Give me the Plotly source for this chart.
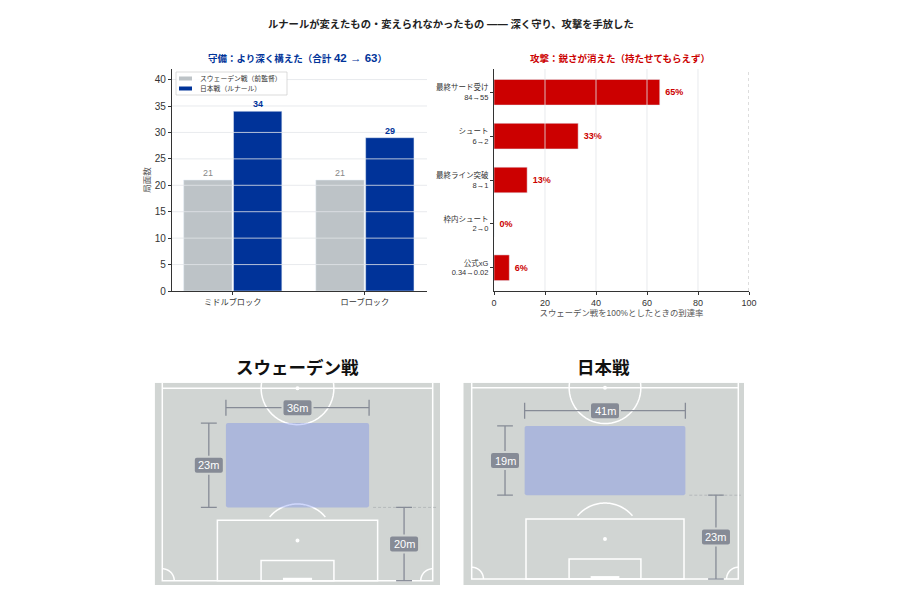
#!/usr/bin/env python3
"""Renard's Saudi Arabia: block depth, attack drop-off and defensive block on the pitch."""

import numpy as np
import plotly.graph_objects as go
from plotly.subplots import make_subplots

FONT = "Liberation Sans, Noto Sans CJK JP, sans-serif"
GREY = "#bdc3c7"
BLUE = "#003399"
RED = "#cc0000"
GRID = "rgba(226,229,233,0.8)"
PITCH_BG = "#d1d5d3"
DIM = "#868b96"

# Defence: block phases
block_cats = ["ミドルブロック", "ローブロック"]
sweden_phases = [21, 21]
japan_phases = [34, 29]
defence_ticks = [0, 5, 10, 15, 20, 25, 30, 35, 40]
series_names = ["スウェーデン戦（前監督）", "日本戦（ルナール）"]

# Attack: share reached against the Sweden match
attack_cats = ["最終サード受け<br>84→55", "シュート<br>6→2", "最終ライン突破<br>8→1",
               "枠内シュート<br>2→0", "公式xG<br>0.34→0.02"]
attack_pct = [65, 33, 13, 0, 6]
attack_ticks = [0, 20, 40, 60, 80, 100]

# Defensive block on the pitch (metres)
pitch_titles = ["スウェーデン戦", "日本戦"]
block_width = [36, 41]
block_depth = [23, 19]
line_height = [20, 23]


def dom_x(left, right):
    return [left / 900, right / 900]


def dom_y(top, bottom):
    return [1 - bottom / 600, 1 - top / 600]


def arc_path(cx, cy, r, start, end, aspect):
    """SVG path of a circular arc, stretched so it stays round on the unequal axes."""
    angles = np.radians(np.linspace(start, end, 60))
    xs = cx + r * np.cos(angles)
    ys = cy + r * aspect * np.sin(angles)
    return "M" + " L".join(f"{x:.3f},{y:.3f}" for x, y in zip(xs, ys))


def round_rect(x0, y0, x1, y1, rx, ry):
    return (f"M{x0 + rx},{y0} L{x1 - rx},{y0} Q{x1},{y0} {x1},{y0 + ry} "
            f"L{x1},{y1 - ry} Q{x1},{y1} {x1 - rx},{y1} L{x0 + rx},{y1} "
            f"Q{x0},{y1} {x0},{y1 - ry} L{x0},{y0 + ry} Q{x0},{y0} {x0 + rx},{y0} Z")


fig = make_subplots(rows=2, cols=2)

# ─── Defence bars ─────────────────────────────────────
fig.add_trace(
    go.Bar(x=block_cats, y=sweden_phases, name=series_names[0], marker_color=GREY, showlegend=False),
    row=1, col=1,
)
fig.add_trace(
    go.Bar(x=block_cats, y=japan_phases, name=series_names[1], marker_color=BLUE, showlegend=False),
    row=1, col=1,
)
# Value labels as annotations: bar text "outside" sits a few px too high
for cat, sw, jp in zip(block_cats, sweden_phases, japan_phases):
    fig.add_annotation(x=cat, y=sw, xref="x", yref="y", xshift=-25, yanchor="bottom", text=str(sw),
                       showarrow=False, font=dict(size=9, color="#888888", family=FONT))
    fig.add_annotation(x=cat, y=jp, xref="x", yref="y", xshift=25, yanchor="bottom", text=f"<b>{jp}</b>",
                       showarrow=False, font=dict(size=9, color=BLUE, family=FONT))

# ─── Attack bars ──────────────────────────────────────
fig.add_trace(
    go.Bar(x=attack_pct, y=attack_cats, orientation="h", width=0.585, marker_color=RED,
           text=[f"<b> {v}%</b>" for v in attack_pct], textposition="outside", cliponaxis=False,
           textfont=dict(size=9, color=RED), showlegend=False),
    row=1, col=2,
)

# Grid lines sit on top of the bars in the original
for v in defence_ticks[1:]:
    fig.add_shape(type="line", xref="x domain", yref="y", x0=0, x1=1, y0=v, y1=v,
                  line=dict(color=GRID, width=1), layer="above")
for v in attack_ticks[1:-1]:
    fig.add_shape(type="line", xref="x2", yref="y2 domain", x0=v, x1=v, y0=0, y1=1,
                  line=dict(color=GRID, width=1), layer="above")
fig.add_shape(type="line", xref="x2", yref="y2 domain", x0=100, x1=100, y0=0, y1=1,
              line=dict(color="#bbbbbb", width=1, dash="dot"), layer="above")

# Legend box, the built-in one cannot draw patches this small
fig.add_shape(type="rect", xref="paper", yref="paper", x0=176 / 900, x1=287 / 900,
              y0=1 - 95 / 600, y1=1 - 72 / 600, line=dict(color="#cccccc", width=0.7),
              fillcolor="rgba(255,255,255,0.9)", layer="above")
for name, color, y in zip(series_names, [GREY, BLUE], [78.5, 88.5]):
    fig.add_shape(type="rect", xref="paper", yref="paper", x0=179 / 900, x1=192 / 900,
                  y0=1 - (y + 2) / 600, y1=1 - (y - 2) / 600, line_width=0, fillcolor=color, layer="above")
    fig.add_annotation(xref="paper", yref="paper", x=198 / 900, y=1 - y / 600, xanchor="left", yanchor="middle",
                       text=name, showarrow=False, font=dict(size=6.8, color="#333333", family=FONT))

# ─── Pitches ──────────────────────────────────────────
PITCH_W, HALF = 68, 52.5
panels = [
    dict(xa="x3", ya="y3", px=(154.7, 440), py=(382.7, 585), ox=(162.3, 432.7), oy=(388.3, 580.7), col=1, title_x=297),
    dict(xa="x4", ya="y4", px=(463.3, 744), py=(382.7, 585), ox=(471.7, 738.3), oy=(387.7, 579), col=2, title_x=603),
]
# positions of the side dimension lines, metres from the left touchline
side_dim_x = [(11.7, 60.8), (8.5, 62.3)]

for i, p in enumerate(panels):
    xs = (p["ox"][1] - p["ox"][0]) / PITCH_W
    ys = (p["oy"][1] - p["oy"][0]) / HALF
    aspect = xs / ys
    x_range = [(p["px"][0] - p["ox"][0]) / xs, PITCH_W + (p["px"][1] - p["ox"][1]) / xs]
    y_range = [(p["oy"][1] - p["py"][1]) / ys, HALF + (p["oy"][0] - p["py"][0]) / ys]
    fig.update_xaxes(domain=dom_x(*p["px"]), range=x_range, visible=False, row=2, col=p["col"])
    fig.update_yaxes(domain=dom_y(*p["py"]), range=y_range, visible=False, row=2, col=p["col"])
    xa, ya = p["xa"], p["ya"]
    mid = PITCH_W / 2
    white = dict(color="white", width=1.5)

    def shape(**kw):
        fig.add_shape(xref=xa, yref=ya, layer="above", **kw)

    shape(type="rect", x0=x_range[0], x1=x_range[1], y0=y_range[0], y1=y_range[1],
          line_width=0, fillcolor=PITCH_BG)
    # touchlines, goal line, halfway line
    shape(type="path", path=f"M0,{y_range[1]} L0,0 L{PITCH_W},0 L{PITCH_W},{y_range[1]}", line=white)
    shape(type="line", x0=0, x1=PITCH_W, y0=HALF, y1=HALF, line=white)
    # centre circle and spots
    shape(type="path", path=arc_path(mid, HALF, 9.15, 0, 360, aspect), line=white)
    for spot in (HALF, 11):
        shape(type="circle", x0=mid - 0.5, x1=mid + 0.5, y0=spot - 0.5 * aspect, y1=spot + 0.5 * aspect,
              line_width=0, fillcolor="white")
    # penalty box, arc, goal area, goal
    shape(type="rect", x0=mid - 20.15, x1=mid + 20.15, y0=0, y1=16.5, line=white)
    shape(type="path", path=arc_path(mid, 11, 9.15, 40, 140, aspect), line=white)
    shape(type="rect", x0=mid - 9.16, x1=mid + 9.16, y0=0, y1=5.5, line=white)
    shape(type="rect", x0=mid - 3.66, x1=mid + 3.66, y0=0, y1=0.8, line_width=0, fillcolor="white")
    # corner arcs
    shape(type="path", path=arc_path(0, 0, 3, 0, 90, aspect), line=white)
    shape(type="path", path=arc_path(PITCH_W, 0, 3, 90, 180, aspect), line=white)

    # defensive block
    bw, bd, lh = block_width[i], block_depth[i], line_height[i]
    bx0, bx1 = mid - bw / 2, mid + bw / 2
    top = lh + bd
    shape(type="path", path=round_rect(bx0, lh, bx1, top, 0.5, 0.5), line_width=0,
          fillcolor="rgba(64,96,244,0.25)")

    # dashed marker for the line height
    shape(type="line", x0=bx1 + 1, x1=x_range[1] - 0.8, y0=lh, y1=lh,
          line=dict(color="#a9adb0", width=0.7, dash="3px,2px"))

    # dimension lines: (x0, y0, x1, y1, label)
    left_x, right_x = side_dim_x[i]
    dims = [
        (bx0, top + 4.2, bx1, top + 4.2, f"{bw}m"),
        (left_x, lh, left_x, top, f"{bd}m"),
        (right_x, 0, right_x, lh, f"{lh}m"),
    ]
    dim_line = dict(color=DIM, width=1.3)
    for x0, y0, x1, y1, label in dims:
        shape(type="line", x0=x0, x1=x1, y0=y0, y1=y1, line=dim_line)
        if y0 == y1:
            for x in (x0, x1):
                shape(type="line", x0=x, x1=x, y0=y0 - 2.2, y1=y0 + 2.2, line=dim_line)
        else:
            for y in (y0, y1):
                shape(type="line", x0=x0 - 2, x1=x0 + 2, y0=y, y1=y, line=dim_line)
        cx, cy = (x0 + x1) / 2, (y0 + y1) / 2
        shape(type="path", xsizemode="pixel", ysizemode="pixel", xanchor=cx, yanchor=cy,
              path=round_rect(-15, -8.5, 15, 8.5, 3, 3), fillcolor=DIM,
              line=dict(color=PITCH_BG, width=2))
        fig.add_annotation(x=cx, y=cy, xref=xa, yref=ya, text=label, showarrow=False,
                           font=dict(size=11, color="white", family=FONT))
    fig.add_annotation(xref="paper", yref="paper", x=p["title_x"] / 900, y=1 - 367.5 / 600,
                       xanchor="center", yanchor="middle",
                       text=f"<b>{pitch_titles[i]}</b>", showarrow=False,
                       font=dict(size=17.5, color="#111111", family=FONT))

# ─── Titles ───────────────────────────────────────────
titles = [
    (451, 24, "<b>ルナールが変えたもの・変えられなかったもの —— 深く守り、攻撃を手放した</b>", 10.3, "#222222"),
    (297, 58, '<b>守備：より深く構えた（合計 <span style="font-size:11.5px">42 → 63</span>）</b>', 9.5, BLUE),
    (620, 58, "<b>攻撃：鋭さが消えた（持たせてもらえず）</b>", 9.5, RED),
]
for x, y, text, size, color in titles:
    fig.add_annotation(xref="paper", yref="paper", x=x / 900, y=1 - y / 600, xanchor="center", yanchor="middle",
                       text=text, showarrow=False, font=dict(size=size, color=color, family=FONT))

# ─── Axes ─────────────────────────────────────────────
axis_style = dict(showgrid=False, zeroline=False, showline=True, linecolor="#333333", linewidth=1.2,
                  ticks="outside", ticklen=3, tickcolor="#333333")
fig.update_xaxes(domain=dom_x(172, 427), type="category", range=[-0.46, 1.47],
                 tickfont=dict(size=8.2, color="#333333"), **axis_style, row=1, col=1)
fig.update_yaxes(domain=dom_y(69, 291), range=[0, 42], tickvals=defence_ticks,
                 tickfont=dict(size=10, color="#333333"),
                 title=dict(text="局面数", font=dict(size=8.5, color="#555555"), standoff=2),
                 **axis_style, row=1, col=1)
fig.update_xaxes(domain=dom_x(494, 749), range=[0, 100], tickvals=attack_ticks,
                 tickfont=dict(size=9, color="#333333"),
                 title=dict(text="スウェーデン戦を100%としたときの到達率", font=dict(size=8.4, color="#555555"), standoff=0),
                 **axis_style, row=1, col=2)
fig.update_yaxes(domain=dom_y(69, 291), type="category", range=[4.53, -0.53],
                 tickfont=dict(size=7.5, color="#333333"), **axis_style, row=1, col=2)

fig.update_layout(
    width=900, height=600, autosize=False,
    margin=dict(l=0, r=0, t=0, b=0, autoexpand=False),
    paper_bgcolor="white", plot_bgcolor="white",
    font=dict(family=FONT, color="#333333"),
    barmode="group", bargap=0.246, bargroupgap=0.03,
    showlegend=False,
)

# the default page keeps the browser's 8px body margin, which shifts everything
fig.write_html("out.html", config={"displayModeBar": False},
               post_script="document.body.style.margin = '0';")
